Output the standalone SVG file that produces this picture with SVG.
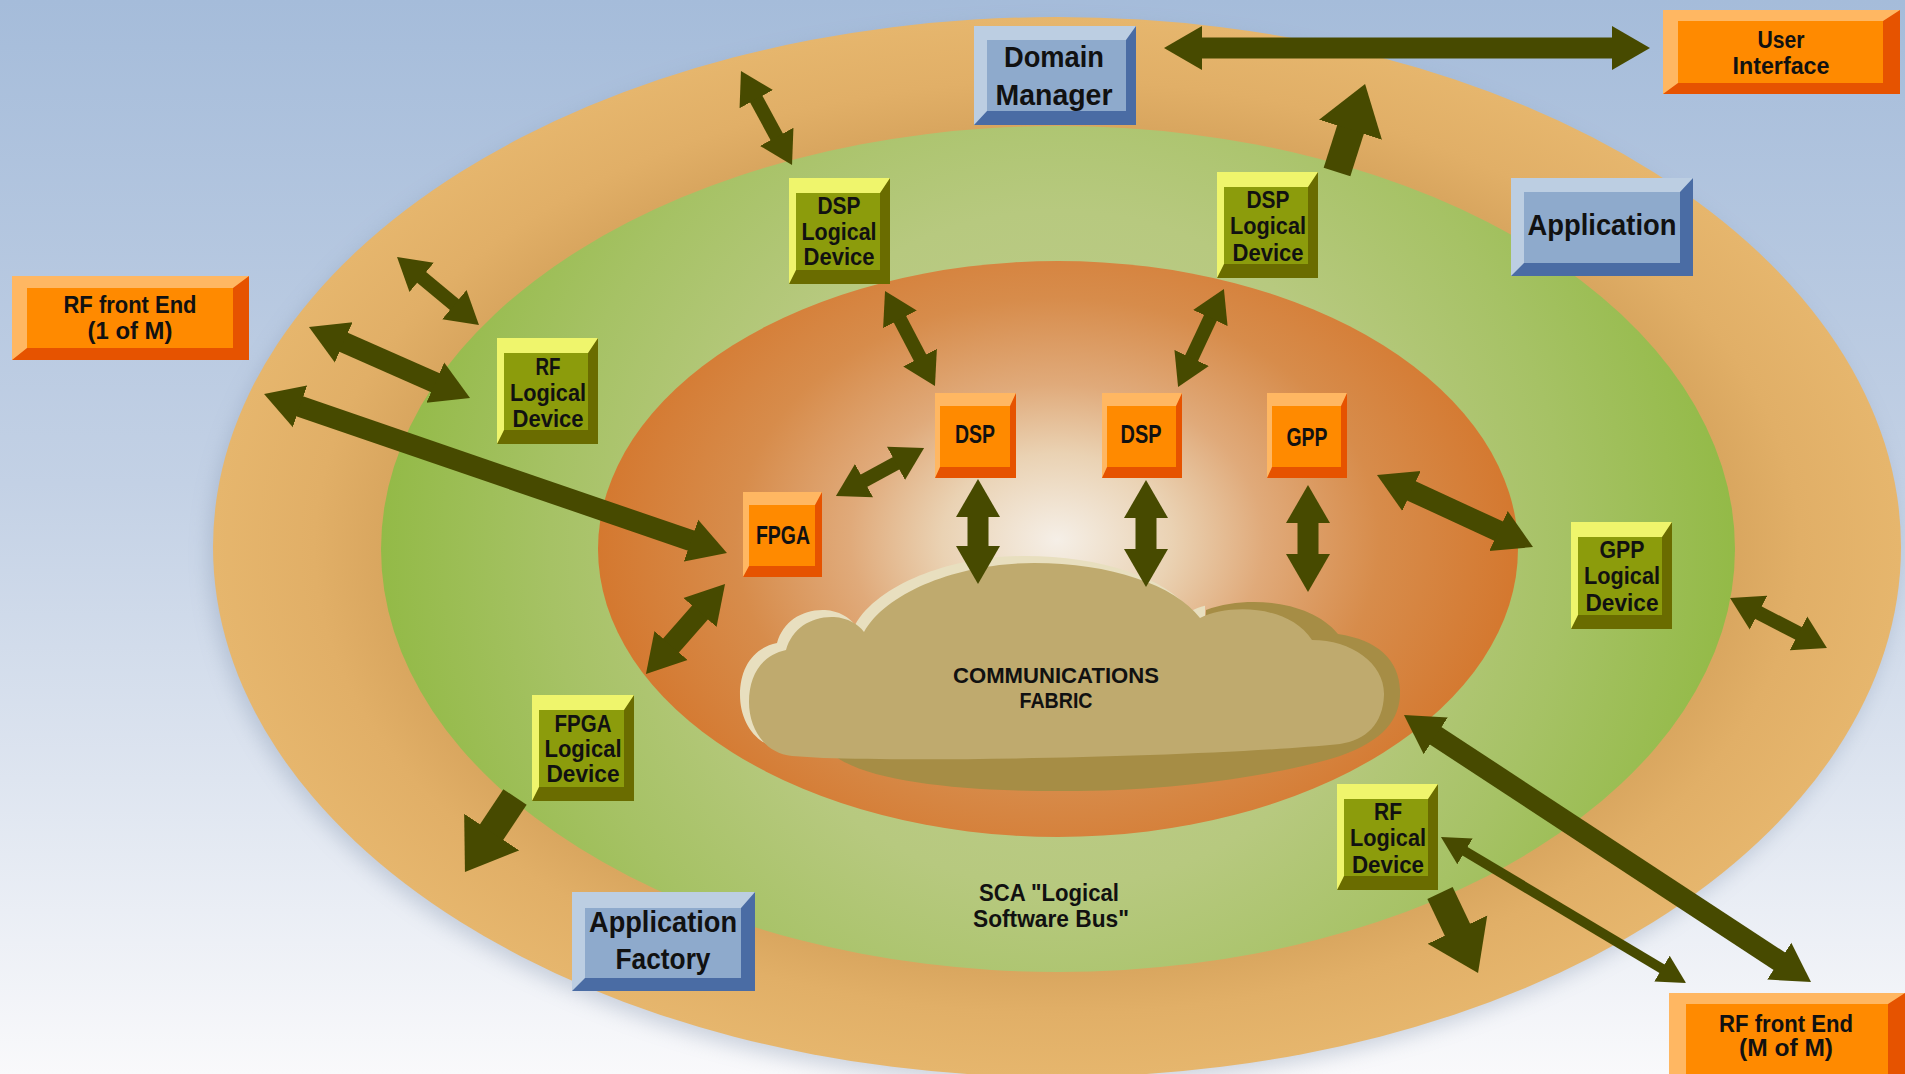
<svg xmlns="http://www.w3.org/2000/svg" width="1905" height="1074" viewBox="0 0 1905 1074">
<defs>
<linearGradient id="bg" x1="0" y1="0" x2="0" y2="1">
<stop offset="0" stop-color="#a5bcda"/><stop offset="0.45" stop-color="#c3d1e5"/><stop offset="1" stop-color="#f9f9fb"/>
</linearGradient>
<radialGradient id="gOuter" cx="0.5" cy="0.5" r="0.5">
<stop offset="0.79" stop-color="#d8a55e"/><stop offset="0.88" stop-color="#e1af67"/><stop offset="1" stop-color="#e6b66d"/>
</radialGradient>
<radialGradient id="gGreen" cx="0.5" cy="0.5" r="0.5" gradientTransform="translate(0.5,0.5) scale(1,1.6) translate(-0.5,-0.5)">
<stop offset="0" stop-color="#c2cd93"/><stop offset="0.5" stop-color="#b7c97f"/><stop offset="0.75" stop-color="#a6c265"/><stop offset="1" stop-color="#93ba47"/>
</radialGradient>
<radialGradient id="gInner" cx="0.499" cy="0.484" r="0.5" gradientTransform="translate(0.499,0.484) scale(1,1.2) translate(-0.499,-0.484)">
<stop offset="0" stop-color="#f5efe7"/><stop offset="0.25" stop-color="#ead2b3"/><stop offset="0.45" stop-color="#e0aa7a"/><stop offset="0.7" stop-color="#d78c4b"/><stop offset="1" stop-color="#d4782f"/>
</radialGradient>
<filter id="blur" x="-0.1" y="-0.1" width="1.2" height="1.2"><feGaussianBlur stdDeviation="10"/></filter>
<clipPath id="clipCream"><rect x="700" y="500" width="505" height="330"/></clipPath>
<path id="cloud" d="M823,758 L792,756 C764,753 749,728 749,702 C749,675 762,655 786,650 C792,628 812,616 834,617 C848,618 858,624 864,632 C888,590 962,563 1034,563 C1110,563 1175,585 1200,618 C1228,604 1288,604 1312,640 C1352,640 1385,664 1384,695 C1383,724 1366,740 1340,744 C1220,756 950,762 823,758 Z"/>
<marker id="mL" markerUnits="userSpaceOnUse" markerWidth="40" markerHeight="46" viewBox="0 -23 40 46" refX="2" refY="0" orient="auto-start-reverse"><path d="M0,-22 L38,0 L0,22 Z" fill="#474a00"/></marker>
<marker id="mM" markerUnits="userSpaceOnUse" markerWidth="34" markerHeight="40" viewBox="0 -20 34 40" refX="2" refY="0" orient="auto-start-reverse"><path d="M0,-19 L32,0 L0,19 Z" fill="#474a00"/></marker>
<marker id="mS" markerUnits="userSpaceOnUse" markerWidth="30" markerHeight="32" viewBox="0 -16 30 32" refX="2" refY="0" orient="auto-start-reverse"><path d="M0,-15 L28,0 L0,15 Z" fill="#474a00"/></marker>
<marker id="mX" markerUnits="userSpaceOnUse" markerWidth="50" markerHeight="68" viewBox="0 -34 50 68" refX="2" refY="0" orient="auto-start-reverse"><path d="M0,-33 L48,0 L0,33 Z" fill="#474a00"/></marker>
<style>
.t{font-family:"Liberation Sans Narrow","Liberation Sans",Arial,sans-serif;font-weight:bold;fill:#111;text-anchor:middle}
.od{fill:#e65300}.ol{fill:#ffb762}.of{fill:#ff8a00}
.gd{fill:#6a6c00}.gl{fill:#eff56c}.gf{fill:#8c9c0c}
.bd{fill:#4a6ca4}.bl{fill:#bccee2}.bf{fill:#8eaacc}
.a{fill:none;stroke:#474a00;stroke-linecap:butt}
.aL{stroke-width:21;marker-start:url(#mL);marker-end:url(#mL)}
.aM{stroke-width:14;marker-start:url(#mM);marker-end:url(#mM)}
.aS{stroke-width:10;marker-start:url(#mS);marker-end:url(#mS)}
.aX{stroke-width:28;marker-end:url(#mX)}
</style>
</defs>
<rect x="0" y="0" width="1905" height="1074" fill="url(#bg)"/>
<g id="rings">
<ellipse cx="1053" cy="555" rx="844" ry="530" fill="#7d8ea8" opacity="0.35" filter="url(#blur)"/>
<ellipse cx="1057" cy="547" rx="844" ry="530" fill="url(#gOuter)"/>
<ellipse cx="1058" cy="549" rx="677" ry="423" fill="url(#gGreen)"/>
<ellipse cx="1058" cy="549" rx="460" ry="288" fill="url(#gInner)"/>
<text class="t" x="1049" y="901" font-size="23" textLength="140" lengthAdjust="spacingAndGlyphs">SCA "Logical</text>
<text class="t" x="1051" y="927" font-size="23" textLength="156" lengthAdjust="spacingAndGlyphs">Software Bus"</text>
</g>
<g id="fabric">
<path d="M823,745 C850,782 960,792 1077,791 C1190,790 1290,772 1340,756 C1385,740 1401,718 1400,690 C1399,660 1378,640 1338,634 C1312,602 1250,594 1206,610 L1200,700 Z" fill="#a68d45"/>
<g clip-path="url(#clipCream)"><use href="#cloud" transform="translate(-9,-7)" fill="#e8dfbf"/></g>
<use href="#cloud" fill="#bfaa6e"/>
<text class="t" x="1056" y="683" font-size="22" textLength="206" lengthAdjust="spacingAndGlyphs">COMMUNICATIONS</text>
<text class="t" x="1056" y="708" font-size="22" textLength="73" lengthAdjust="spacingAndGlyphs">FABRIC</text>
</g>
<g id="connectors">
<line class="a aL" x1="1200" y1="48" x2="1614" y2="48"/>
<line class="a aM" x1="755.3" y1="97.4" x2="777.7" y2="138.6"/>
<line class="a aM" x1="420.1" y1="276.1" x2="455.9" y2="305.9"/>
<line class="a aL" x1="341.9" y1="341.5" x2="437.1" y2="383.5"/>
<line class="a aL" x1="298.1" y1="405.7" x2="692.9" y2="541.3"/>
<line class="a aM" x1="899" y1="317.6" x2="921" y2="359.4"/>
<line class="a aM" x1="862.3" y1="481.6" x2="897.7" y2="462.4"/>
<line class="a aL" x1="978" y1="515" x2="978" y2="548"/>
<line class="a aL" x1="1146" y1="516" x2="1146" y2="551"/>
<line class="a aL" x1="1308" y1="521" x2="1308" y2="556"/>
<line class="a aM" x1="1211.2" y1="316.2" x2="1190.8" y2="359.8"/>
<line class="a aX" x1="1337" y1="172" x2="1351.1" y2="127.8"/>
<line class="a aL" x1="1409.7" y1="490.1" x2="1500.3" y2="531.9"/>
<line class="a aM" x1="1756.7" y1="611.7" x2="1800.3" y2="634.3"/>
<line class="a aL" x1="1434.1" y1="734.7" x2="1780.9" y2="962.3"/>
<line class="a aS" x1="1463.3" y1="850.3" x2="1663.7" y2="969.7"/>
<line class="a aX" x1="1440" y1="893" x2="1458.3" y2="931.5"/>
<line class="a aX" x1="515" y1="797" x2="490.5" y2="833.7"/>
<line class="a aL" x1="701.3" y1="611" x2="669.7" y2="647"/>
</g>
<g id="rf-front-end-1">
<rect class="od" x="12" y="276" width="237" height="84"/>
<polygon class="ol" points="12,276 249,276 233,288 27,288 27,348 12,360"/>
<rect class="of" x="27" y="288" width="206" height="60"/>
<text class="t" x="130" y="313" font-size="24" textLength="133" lengthAdjust="spacingAndGlyphs">RF front End</text>
<text class="t" x="130" y="339" font-size="24" textLength="85" lengthAdjust="spacingAndGlyphs">(1 of M)</text>
</g>
<g id="user-interface">
<rect class="od" x="1663" y="10" width="237" height="84"/>
<polygon class="ol" points="1663,10 1900,10 1883,21 1678,21 1678,83 1663,94"/>
<rect class="of" x="1678" y="21" width="205" height="62"/>
<text class="t" x="1781" y="48" font-size="24" textLength="47" lengthAdjust="spacingAndGlyphs">User</text>
<text class="t" x="1781" y="74" font-size="24" textLength="97" lengthAdjust="spacingAndGlyphs">Interface</text>
</g>
<g id="rf-front-end-m">
<rect class="od" x="1669" y="993" width="236" height="100"/>
<polygon class="ol" points="1669,993 1905,993 1888,1004 1686,1004 1686,1082 1669,1093"/>
<rect class="of" x="1686" y="1004" width="202" height="78"/>
<text class="t" x="1786" y="1032" font-size="24" textLength="134" lengthAdjust="spacingAndGlyphs">RF front End</text>
<text class="t" x="1786" y="1056" font-size="24" textLength="94" lengthAdjust="spacingAndGlyphs">(M of M)</text>
</g>
<g id="fpga">
<rect class="od" x="743" y="492" width="79" height="85"/>
<polygon class="ol" points="743,492 822,492 815,505 749,505 749,566 743,577"/>
<rect class="of" x="749" y="505" width="66" height="61"/>
<text class="t" x="783" y="544" font-size="25" textLength="54" lengthAdjust="spacingAndGlyphs">FPGA</text>
</g>
<g id="dsp-1">
<rect class="od" x="935" y="393" width="81" height="85"/>
<polygon class="ol" points="935,393 1016,393 1010,406 940,406 940,467 935,478"/>
<rect class="of" x="940" y="406" width="70" height="61"/>
<text class="t" x="975" y="443" font-size="25" textLength="40" lengthAdjust="spacingAndGlyphs">DSP</text>
</g>
<g id="dsp-2">
<rect class="od" x="1102" y="393" width="80" height="85"/>
<polygon class="ol" points="1102,393 1182,393 1176,406 1107,406 1107,467 1102,478"/>
<rect class="of" x="1107" y="406" width="69" height="61"/>
<text class="t" x="1141" y="443" font-size="25" textLength="41" lengthAdjust="spacingAndGlyphs">DSP</text>
</g>
<g id="gpp">
<rect class="od" x="1267" y="393" width="80" height="85"/>
<polygon class="ol" points="1267,393 1347,393 1341,406 1272,406 1272,467 1267,478"/>
<rect class="of" x="1272" y="406" width="69" height="61"/>
<text class="t" x="1307" y="446" font-size="25" textLength="41" lengthAdjust="spacingAndGlyphs">GPP</text>
</g>
<g id="dsp-logical-device-1">
<rect class="gd" x="789" y="178" width="101" height="106"/>
<polygon class="gl" points="789,178 890,178 880,193 796,193 796,270 789,284"/>
<rect class="gf" x="796" y="193" width="84" height="77"/>
<text class="t" x="839" y="214" font-size="24" textLength="43" lengthAdjust="spacingAndGlyphs">DSP</text>
<text class="t" x="839" y="240" font-size="24" textLength="75" lengthAdjust="spacingAndGlyphs">Logical</text>
<text class="t" x="839" y="265" font-size="24" textLength="71" lengthAdjust="spacingAndGlyphs">Device</text>
</g>
<g id="dsp-logical-device-2">
<rect class="gd" x="1217" y="172" width="101" height="106"/>
<polygon class="gl" points="1217,172 1318,172 1308,187 1224,187 1224,264 1217,278"/>
<rect class="gf" x="1224" y="187" width="84" height="77"/>
<text class="t" x="1268" y="208" font-size="24" textLength="43" lengthAdjust="spacingAndGlyphs">DSP</text>
<text class="t" x="1268" y="234" font-size="24" textLength="76" lengthAdjust="spacingAndGlyphs">Logical</text>
<text class="t" x="1268" y="261" font-size="24" textLength="71" lengthAdjust="spacingAndGlyphs">Device</text>
</g>
<g id="rf-logical-device-1">
<rect class="gd" x="497" y="338" width="101" height="106"/>
<polygon class="gl" points="497,338 598,338 588,353 504,353 504,430 497,444"/>
<rect class="gf" x="504" y="353" width="84" height="77"/>
<text class="t" x="548" y="375" font-size="24" textLength="25" lengthAdjust="spacingAndGlyphs">RF</text>
<text class="t" x="548" y="401" font-size="24" textLength="76" lengthAdjust="spacingAndGlyphs">Logical</text>
<text class="t" x="548" y="427" font-size="24" textLength="71" lengthAdjust="spacingAndGlyphs">Device</text>
</g>
<g id="gpp-logical-device">
<rect class="gd" x="1571" y="522" width="101" height="107"/>
<polygon class="gl" points="1571,522 1672,522 1662,537 1578,537 1578,615 1571,629"/>
<rect class="gf" x="1578" y="537" width="84" height="78"/>
<text class="t" x="1622" y="558" font-size="24" textLength="45" lengthAdjust="spacingAndGlyphs">GPP</text>
<text class="t" x="1622" y="584" font-size="24" textLength="76" lengthAdjust="spacingAndGlyphs">Logical</text>
<text class="t" x="1622" y="611" font-size="24" textLength="73" lengthAdjust="spacingAndGlyphs">Device</text>
</g>
<g id="fpga-logical-device">
<rect class="gd" x="532" y="695" width="102" height="106"/>
<polygon class="gl" points="532,695 634,695 624,710 539,710 539,787 532,801"/>
<rect class="gf" x="539" y="710" width="85" height="77"/>
<text class="t" x="583" y="732" font-size="24" textLength="57" lengthAdjust="spacingAndGlyphs">FPGA</text>
<text class="t" x="583" y="757" font-size="24" textLength="77" lengthAdjust="spacingAndGlyphs">Logical</text>
<text class="t" x="583" y="782" font-size="24" textLength="73" lengthAdjust="spacingAndGlyphs">Device</text>
</g>
<g id="rf-logical-device-2">
<rect class="gd" x="1337" y="784" width="101" height="106"/>
<polygon class="gl" points="1337,784 1438,784 1428,799 1344,799 1344,876 1337,890"/>
<rect class="gf" x="1344" y="799" width="84" height="77"/>
<text class="t" x="1388" y="820" font-size="24" textLength="28" lengthAdjust="spacingAndGlyphs">RF</text>
<text class="t" x="1388" y="846" font-size="24" textLength="76" lengthAdjust="spacingAndGlyphs">Logical</text>
<text class="t" x="1388" y="873" font-size="24" textLength="72" lengthAdjust="spacingAndGlyphs">Device</text>
</g>
<g id="domain-manager">
<rect class="bd" x="974" y="26" width="162" height="99"/>
<polygon class="bl" points="974,26 1136,26 1126,40 987,40 987,111 974,125"/>
<rect class="bf" x="987" y="40" width="139" height="71"/>
<text class="t" x="1054" y="67" font-size="30" textLength="100" lengthAdjust="spacingAndGlyphs">Domain</text>
<text class="t" x="1054" y="105" font-size="30" textLength="117" lengthAdjust="spacingAndGlyphs">Manager</text>
</g>
<g id="application">
<rect class="bd" x="1511" y="178" width="182" height="98"/>
<polygon class="bl" points="1511,178 1693,178 1680,192 1524,192 1524,263 1511,276"/>
<rect class="bf" x="1524" y="192" width="156" height="71"/>
<text class="t" x="1602" y="235" font-size="30" textLength="149" lengthAdjust="spacingAndGlyphs">Application</text>
</g>
<g id="application-factory">
<rect class="bd" x="572" y="892" width="183" height="99"/>
<polygon class="bl" points="572,892 755,892 741,908 585,908 585,978 572,991"/>
<rect class="bf" x="585" y="908" width="156" height="70"/>
<text class="t" x="663" y="932" font-size="30" textLength="148" lengthAdjust="spacingAndGlyphs">Application</text>
<text class="t" x="663" y="969" font-size="30" textLength="95" lengthAdjust="spacingAndGlyphs">Factory</text>
</g>
</svg>
